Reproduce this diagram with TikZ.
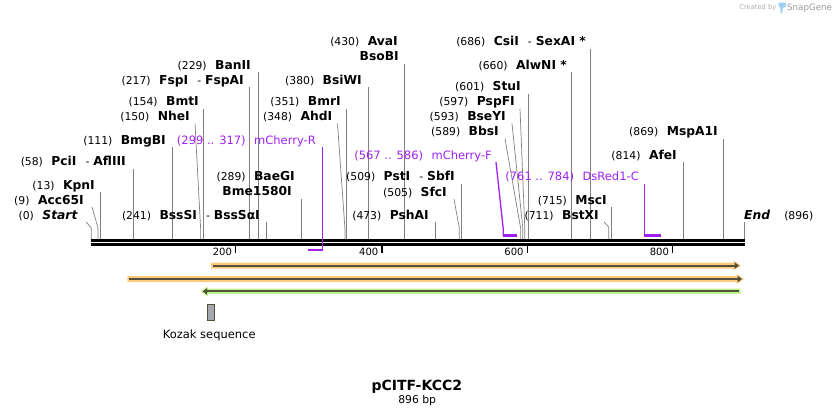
\documentclass[tikz,border=0pt]{standalone}
\usepackage{fontspec}
\setmainfont{DejaVu Sans}
\usetikzlibrary{arrows.meta,positioning}
\definecolor{cutgray}{HTML}{808080}
\definecolor{primer}{HTML}{A020F0}
\definecolor{orangeband}{HTML}{FDCB7A}
\definecolor{greenband}{HTML}{BDF58A}
\definecolor{featdark}{HTML}{54503F}
\definecolor{kozakfill}{HTML}{A4A8AE}
\definecolor{snapblue}{HTML}{9FD2F2}
\newcommand{\bp}[1]{{\fontsize{10.8}{12}\selectfont(#1)}\hspace{8.5pt}}
\newcommand{\dash}{\hspace{9pt}{\fontsize{10.8}{12}\selectfont -}\hspace{4pt}}
\tikzset{
  cut/.style={cutgray, line width=0.7pt},
  enz/.style={anchor=base east, inner sep=0pt, text depth=2.5pt, font=\fontsize{12.3}{14}\selectfont},
  prm/.style={enz, text=primer, font=\fontsize{11.5}{13}\selectfont},
  prmline/.style={primer, line width=1.3pt},
  prmbar/.style={primer, line width=2.4pt},
  tick/.style={line width=1.5pt},
  tickl/.style={anchor=east, inner sep=0pt, xshift=-3pt, yshift=1pt, font=\fontsize{10}{12}\selectfont},
  featline/.style={featdark, line width=2.1pt, -{Triangle[length=4.5pt,width=6.5pt]}},
  kozak/.style={draw=featdark, line width=0.8pt, fill=kozakfill, minimum width=7.4pt, minimum height=16.7pt, inner sep=0pt}
}
\begin{document}
\begin{tikzpicture}[x=1pt, y=-1pt]
\useasboundingbox (0, 0) rectangle (836, 415) ;
\node[anchor=east, inner sep=0pt, text=black!32, font=\fontsize{6.7}{8}\selectfont] (created) at (776.5, 7.7) {Created by} ;
\fill[snapblue] (778.5, 2.5) -- (786, 2.5) -- (786, 6.5) -- (782.8, 8.2) -- (782.3, 13.3) -- (780.6, 13.3) -- (780.2, 7.2) -- (778.5, 6.2) -- cycle ;
\node[anchor=west, inner sep=0pt, text=black!40, font=\fontsize{8.7}{10}\selectfont] (snapgene) at (787, 7.7) {SnapGene} ;

\node[enz] (start) at (78, 219.2) {\bp{0}\textbf{\textit{Start}}} ;
\coordinate (startS) at (91.3, 240) ;
\draw[cut] ([xshift=8pt]start.south east) -- ([yshift=12pt]startS) -- (startS) ;
\node[enz] (acc) at (84, 204.2) {\bp{9}\textbf{Acc65I}} ;
\coordinate (accS) at (98, 240) ;
\draw[cut] ([xshift=8pt]acc.south east) -- ([yshift=12pt]accS) -- (accS) ;
\node[enz] (kpn) at (95, 189.2) {\bp{13}\textbf{KpnI}} ;
\coordinate (kpnS) at (100.8, 240) ;
\draw[cut] (kpn.south -| kpnS) -- (kpnS) ;
\node[enz] (pci) at (126, 165.9) {\bp{58}\textbf{PciI}\dash\textbf{AflIII}} ;
\coordinate (pciS) at (133.6, 240) ;
\draw[cut] (pci.south -| pciS) -- (pciS) ;
\node[enz] (bmgb) at (166, 144.2) {\bp{111}\textbf{BmgBI}} ;
\coordinate (bmgbS) at (172.3, 240) ;
\draw[cut] (bmgb.south -| bmgbS) -- (bmgbS) ;
\node[enz] (nhe) at (190, 120.9) {\bp{150}\textbf{NheI}} ;
\coordinate (nheS) at (200.6, 240) ;
\draw[cut] ([xshift=5pt]nhe.south east) -- ([yshift=12pt]nheS) -- (nheS) ;
\node[enz] (bmt) at (199, 105.9) {\bp{154}\textbf{BmtI}} ;
\coordinate (bmtS) at (203.5, 240) ;
\draw[cut] (bmt.south -| bmtS) -- (bmtS) ;
\node[enz] (fsp) at (244, 84.2) {\bp{217}\textbf{FspI}\dash\textbf{FspAI}} ;
\coordinate (fspS) at (249.5, 240) ;
\draw[cut] (fsp.south -| fspS) -- (fspS) ;
\node[enz] (ban) at (251, 69.2) {\bp{229}\textbf{BanII}} ;
\coordinate (banS) at (258.3, 240) ;
\draw[cut] (ban.south -| banS) -- (banS) ;
\node[enz] (bsss) at (260, 219.2) {\bp{241}\textbf{BssSI}\dash\textbf{BssSαI}} ;
\coordinate (bsssS) at (266.8, 240) ;
\draw[cut] (bsss.south -| bsssS) -- (bsssS) ;
\node[enz] (baeg) at (295, 180.9) {\bp{289}\textbf{BaeGI}} ;
\node[enz] (bme) at (292, 195.9) {\textbf{Bme1580I}} ;
\coordinate (bmeS) at (301.8, 240) ;
\draw[cut] (bme.south -| bmeS) -- (bmeS) ;
\node[enz] (ahd) at (332.5, 120.9) {\bp{348}\textbf{AhdI}} ;
\coordinate (ahdS) at (344.9, 240) ;
\draw[cut] ([xshift=5pt]ahd.south east) -- ([yshift=12pt]ahdS) -- (ahdS) ;
\node[enz] (bmr) at (341, 105.9) {\bp{351}\textbf{BmrI}} ;
\coordinate (bmrS) at (346.3, 240) ;
\draw[cut] (bmr.south -| bmrS) -- (bmrS) ;
\node[enz] (bsiw) at (362, 84.2) {\bp{380}\textbf{BsiWI}} ;
\coordinate (bsiwS) at (368.3, 240) ;
\draw[cut] (bsiw.south -| bsiwS) -- (bsiwS) ;
\node[enz] (ava) at (398, 45.9) {\bp{430}\textbf{AvaI}} ;
\node[enz] (bsob) at (399, 60.9) {\textbf{BsoBI}} ;
\coordinate (bsobS) at (404.7, 240) ;
\draw[cut] (bsob.south -| bsobS) -- (bsobS) ;
\node[enz] (psha) at (429, 219.2) {\bp{473}\textbf{PshAI}} ;
\coordinate (pshaS) at (435.7, 240) ;
\draw[cut] (psha.south -| pshaS) -- (pshaS) ;
\node[enz] (sfc) at (447, 196.5) {\bp{505}\textbf{SfcI}} ;
\coordinate (sfcS) at (459.3, 240) ;
\draw[cut] ([xshift=7pt]sfc.south east) -- ([yshift=12pt]sfcS) -- (sfcS) ;
\node[enz] (pst) at (455, 180.9) {\bp{509}\textbf{PstI}\dash\textbf{SbfI}} ;
\coordinate (pstS) at (461.7, 240) ;
\draw[cut] (pst.south -| pstS) -- (pstS) ;
\node[enz] (bbs) at (499, 135.9) {\bp{589}\textbf{BbsI}} ;
\coordinate (bbsS) at (520.6, 240) ;
\draw[cut] ([xshift=6pt]bbs.south east) -- ([yshift=12pt]bbsS) -- (bbsS) ;
\node[enz] (bsey) at (506, 120.9) {\bp{593}\textbf{BseYI}} ;
\coordinate (bseyS) at (522.8, 240) ;
\draw[cut] ([xshift=6pt]bsey.south east) -- ([yshift=12pt]bseyS) -- (bseyS) ;
\node[enz] (pspf) at (515, 105.9) {\bp{597}\textbf{PspFI}} ;
\coordinate (pspfS) at (524.8, 240) ;
\draw[cut] ([xshift=5pt]pspf.south east) -- ([yshift=12pt]pspfS) -- (pspfS) ;
\node[enz] (stu) at (521, 90.9) {\bp{601}\textbf{StuI}} ;
\coordinate (stuS) at (528.3, 240) ;
\draw[cut] (stu.south -| stuS) -- (stuS) ;
\node[enz] (alwn) at (567, 69.2) {\bp{660}\textbf{AlwNI *}} ;
\coordinate (alwnS) at (571.7, 240) ;
\draw[cut] (alwn.south -| alwnS) -- (alwnS) ;
\node[enz] (csi) at (586, 45.9) {\bp{686}\textbf{CsiI}\dash\textbf{SexAI *}} ;
\coordinate (csiS) at (590.7, 240) ;
\draw[cut] (csi.south -| csiS) -- (csiS) ;
\node[enz] (bstx) at (599, 219.2) {\bp{711}\textbf{BstXI}} ;
\coordinate (bstxS) at (608.7, 240) ;
\draw[cut] ([xshift=5pt]bstx.south east) -- ([yshift=13pt]bstxS) -- (bstxS) ;
\node[enz] (msc) at (607, 204.2) {\bp{715}\textbf{MscI}} ;
\coordinate (mscS) at (611.7, 240) ;
\draw[cut] (msc.south -| mscS) -- (mscS) ;
\node[enz] (afe) at (677, 159.2) {\bp{814}\textbf{AfeI}} ;
\coordinate (afeS) at (683.3, 240) ;
\draw[cut] (afe.south -| afeS) -- (afeS) ;
\node[enz] (mspa) at (718, 135.9) {\bp{869}\textbf{MspA1I}} ;
\coordinate (mspaS) at (723.3, 240) ;
\draw[cut] (mspa.south -| mspaS) -- (mspaS) ;
\node[enz, anchor=base west] (end) at (744, 219.2) {\textbf{\textit{End}}\hspace{14pt}{\fontsize{10.8}{12}\selectfont(896)}} ;
\coordinate (endS) at (744.3, 240) ;
\draw[cut] (end.south -| endS) -- (endS) ;

\draw[line width=2.7pt] (91, 240.6) -- (745, 240.6) ;
\draw[line width=2.4pt] (91, 244.5) -- (745, 244.5) ;

\node[prm] (mchr) at (316, 144.2) {(299 .. 317)\hspace{8.5pt}mCherry-R} ;
\coordinate (mchrA) at (322.3, 249.7) ;
\coordinate (mchrB) at (308.3, 249.7) ;
\draw[prmline] (mchr.south -| mchrA) -- (mchrA) ;
\draw[prmbar] ([xshift=0.6pt]mchrA) -- (mchrB) ;
\node[prm] (mchf) at (492, 159.2) {(567 .. 586)\hspace{8.5pt}mCherry-F} ;
\coordinate (mchfA) at (503.3, 235.5) ;
\coordinate (mchfB) at (516.7, 235.5) ;
\draw[prmline] ([xshift=4pt]mchf.south east) -- ([yshift=6pt]mchfA) -- (mchfA) ;
\draw[prmbar] ([xshift=-0.6pt]mchfA) -- (mchfB) ;
\node[prm] (dsred) at (639, 180.9) {(761 .. 784)\hspace{8.5pt}DsRed1-C} ;
\coordinate (dsredA) at (644.3, 235.5) ;
\coordinate (dsredB) at (660.7, 235.5) ;
\draw[prmline] (dsred.south -| dsredA) -- (dsredA) ;
\draw[prmbar] ([xshift=-0.6pt]dsredA) -- (dsredB) ;

\draw[tick] (235.7, 245.5) -- (235.7, 252.7) node[tickl] (t200) {200} ;
\draw[tick] (382, 245.5) -- (382, 252.7) node[tickl] (t400) {400} ;
\draw[tick] (527.3, 245.5) -- (527.3, 252.7) node[tickl] (t600) {600} ;
\draw[tick] (672.7, 245.5) -- (672.7, 252.7) node[tickl] (t800) {800} ;

\fill[orangeband] (211, 262.6) -- (733.5, 262.6) -- (733.5, 260.6) -- (741, 265.6) -- (733.5, 270.6) -- (733.5, 268.6) -- (211, 268.6) -- cycle ;
\draw[featline] (212.5, 265.6) -- (739, 265.6) ;
\fill[orangeband] (127.3, 276) -- (736.5, 276) -- (736.5, 274) -- (744, 279) -- (736.5, 284) -- (736.5, 282) -- (127.3, 282) -- cycle ;
\draw[featline] (128.8, 279) -- (742, 279) ;
\fill[greenband] (740.7, 288.6) -- (207.5, 288.6) -- (207.5, 286.4) -- (200.7, 291.4) -- (207.5, 296.4) -- (207.5, 294.2) -- (740.7, 294.2) -- cycle ;
\draw[featline] (739.2, 291.4) -- (202.7, 291.4) ;

\node[kozak] (kozak) at (211, 312.4) {} ;
\node[anchor=base, inner sep=0pt, font=\fontsize{11.5}{13}\selectfont] (kozakl) at (209.2, 338.2) {Kozak sequence} ;

\node[anchor=base, inner sep=0pt, font=\bfseries\fontsize{14}{16}\selectfont] (title) at (416.8, 390) {pCITF-KCC2} ;
\node[anchor=base, inner sep=0pt, font=\fontsize{10.8}{12}\selectfont] (size) at (417.2, 403.2) {896 bp} ;
\end{tikzpicture}
\end{document}
